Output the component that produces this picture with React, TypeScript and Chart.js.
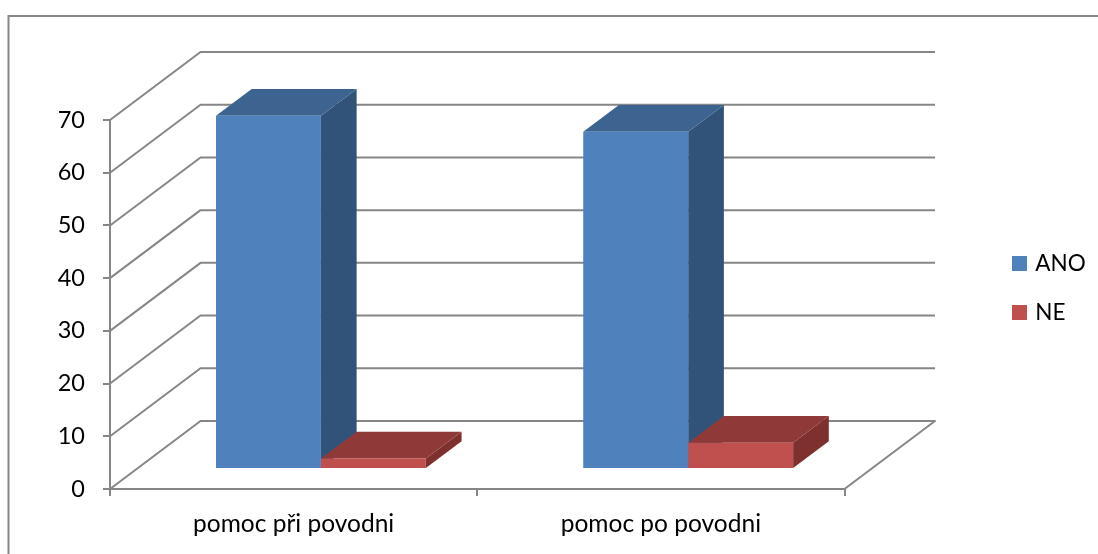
import React, { useEffect, useRef } from "react";
import { Chart, registerables } from "chart.js";

Chart.register(...registerables);

const categories = ["pomoc při povodni", "pomoc po povodni"];
const seriesNames = ["ANO", "NE"];
const anoValues = [67, 64];
const neValues = [2, 5];
const yMin = 0;
const yMax = 70;
const yStep = 10;

const FRONT = ["#4F81BD", "#C0504D"];
const TOP = ["#3D6491", "#8F3A38"];
const SIDE = ["#325379", "#7D302E"];
const LINE = "#868686";
const FONT = "Lato";
const X_FONT_SIZE = 24.5;
const Y_FONT_SIZE = 23.5;
const LEGEND_FONT_SIZE = 22.5;

const WALL_DX = 90.5;
const WALL_DY = -68;
const BAR_SHIFT_X = 27.3;
const BAR_SHIFT_Y = -20;
const BAR_DX = 35.7;
const BAR_DY = -26.7;

const PLOT_RIGHT = 844.5;
const PLOT_LEFT = 110;
const PLOT_TOP = 120;
const PLOT_BOTTOM = 489;

const poly = (ctx: CanvasRenderingContext2D, pts: number[][], fill: string) => {
  ctx.beginPath();
  pts.forEach(([x, y], i) => (i ? ctx.lineTo(x, y) : ctx.moveTo(x, y)));
  ctx.closePath();
  ctx.fillStyle = fill;
  ctx.fill();
};

const frame3d = {
  id: "frame3d",
  beforeLayout(chart: any) {
    const lg = chart.legend;
    if (lg && !lg.__wrapped) {
      lg.__wrapped = true;
      const fit = lg.fit;
      lg.fit = function () {
        fit.call(this);
        this.width = chart.width - PLOT_RIGHT;
      };
    }
  },
  afterLayout(chart: any) {
    const lg = chart.legend;
    const pad = lg.options.labels.padding;
    lg.left = 1015 - pad;
    lg.top = 252.25 - pad;
    lg.bottom = lg.top + 200;
  },
  beforeDraw(chart: any) {
    const ctx = chart.ctx;
    ctx.save();
    ctx.strokeStyle = LINE;
    ctx.lineWidth = 2;
    ctx.beginPath();
    ctx.moveTo(8.5, chart.height);
    ctx.lineTo(8.5, 16);
    ctx.lineTo(chart.width, 16);
    ctx.stroke();
    ctx.restore();
  },
  beforeDatasetsDraw(chart: any) {
    const ctx = chart.ctx;
    const { x, y } = chart.scales;
    ctx.save();
    ctx.strokeStyle = LINE;
    ctx.lineWidth = 2;
    ctx.lineJoin = "round";
    y.ticks.forEach((t: any) => {
      const py = y.getPixelForValue(t.value);
      ctx.beginPath();
      ctx.moveTo(x.left, py);
      ctx.lineTo(x.left + WALL_DX, py + WALL_DY);
      ctx.lineTo(x.right + WALL_DX, py + WALL_DY);
      if (t.value === yMin) ctx.lineTo(x.right, py);
      ctx.stroke();
    });
    ctx.restore();

    ctx.save();
    ctx.translate(BAR_SHIFT_X, BAR_SHIFT_Y);
    chart.data.datasets.forEach((_: any, di: number) => {
      chart.getDatasetMeta(di).data.forEach((bar: any) => {
        const p = bar.getProps(["x", "y", "base", "width"], true);
        const l = p.x - p.width / 2;
        const r = p.x + p.width / 2;
        poly(
          ctx,
          [
            [r, p.y],
            [r + BAR_DX, p.y + BAR_DY],
            [r + BAR_DX, p.base + BAR_DY],
            [r, p.base],
          ],
          SIDE[di]
        );
        poly(
          ctx,
          [
            [l, p.y],
            [l + BAR_DX, p.y + BAR_DY],
            [r + BAR_DX, p.y + BAR_DY],
            [r, p.y],
          ],
          TOP[di]
        );
      });
    });
  },
  afterDatasetsDraw(chart: any) {
    chart.ctx.restore();
  },
};

export default function App() {
  const ref = useRef<HTMLCanvasElement>(null);
  useEffect(() => {
    const chart = new Chart(ref.current as HTMLCanvasElement, {
      type: "bar",
      data: {
        labels: categories,
        datasets: [
          { label: seriesNames[0], data: anoValues, backgroundColor: FRONT[0], clip: false },
          { label: seriesNames[1], data: neValues, backgroundColor: FRONT[1], clip: false },
        ],
      } as any,
      options: {
        responsive: false,
        animation: false,
        devicePixelRatio: 1,
        layout: { padding: { top: PLOT_TOP, left: 0, right: 0, bottom: 0 } },
        datasets: { bar: { categoryPercentage: 0.5715, barPercentage: 1 } },
        scales: {
          x: {
            grid: { drawOnChartArea: false, drawTicks: true, tickLength: 7, color: LINE, lineWidth: 2 },
            border: { color: LINE, width: 2 },
            ticks: { color: "#000", font: { family: FONT, size: X_FONT_SIZE }, padding: 13, maxRotation: 0 },
            afterFit(a: any) {
              a.height = 554 - PLOT_BOTTOM;
            },
          },
          y: {
            min: yMin,
            max: yMax,
            ticks: { stepSize: yStep, color: "#000", font: { family: FONT, size: Y_FONT_SIZE }, padding: 18 },
            grid: { drawOnChartArea: false, drawTicks: true, tickLength: 7, color: LINE, lineWidth: 2 },
            border: { color: LINE, width: 2 },
            afterFit(a: any) {
              a.width = PLOT_LEFT;
            },
          },
        },
        plugins: {
          title: { display: false },
          tooltip: { enabled: false },
          legend: {
            position: "right",
            align: "start",
            labels: {
              color: "#000",
              font: { family: FONT, size: LEGEND_FONT_SIZE },
              boxWidth: 9,
              boxHeight: 9,
              padding: 26.5,
              generateLabels(c: any) {
                return c.data.datasets.map((d: any, i: number) => ({
                  text: d.label,
                  fillStyle: FRONT[i],
                  strokeStyle: FRONT[i],
                  lineWidth: 6,
                  hidden: false,
                  datasetIndex: i,
                  fontColor: "#000",
                }));
              },
            },
          },
        },
      } as any,
      plugins: [frame3d],
    });
    return () => chart.destroy();
  }, []);
  return (
    <div style={{ position: "fixed", left: 0, top: 0, background: "#fff" }}>
      <canvas ref={ref} width={1098} height={554} style={{ display: "block" }} />
    </div>
  );
}
